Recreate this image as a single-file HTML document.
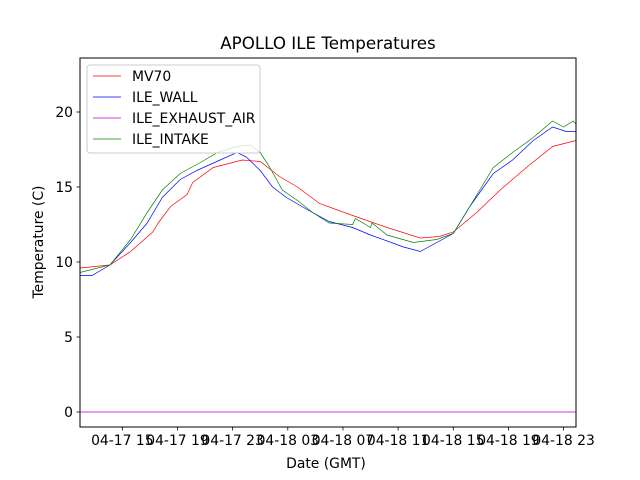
<!DOCTYPE html>
<html><head><meta charset="utf-8"><style>
html,body{margin:0;padding:0;background:#fff;}
svg{display:block;font-family:"DejaVu Sans","Liberation Sans",sans-serif;}
</style></head><body>
<svg id="chart" width="640" height="480" viewBox="0 0 640 480">
<rect x="0" y="0" width="640" height="480" fill="#fff"/>
<text x="328" y="49" font-size="16.7" text-anchor="middle">APOLLO ILE Temperatures</text>
<g id="plot"></g>
<g id="axes"></g>
<text x="326" y="468" font-size="13.9" text-anchor="middle">Date (GMT)</text>
<text transform="translate(43,242) rotate(-90)" font-size="13.9" text-anchor="middle">Temperature (C)</text>
<g id="legend"></g>
</svg>
<script>
// hours since 04-17 00:00
const xTickHours = [15,19,23,27,31,35,39,43,47];
const xTickLabels = ["04-17 15","04-17 19","04-17 23","04-18 03","04-18 07","04-18 11","04-18 15","04-18 19","04-18 23"];
const yTicks = [0,5,10,15,20];
const seriesNames = ["MV70","ILE_WALL","ILE_EXHAUST_AIR","ILE_INTAKE"];
const seriesColors = ["#ff0000","#0000ff","#bf00bf","#008000"];
const mv70Times = [11.93,14.1,15.6,17.2,17.6,18.5,19.7,20.1,21.6,23.7,25.0,26.4,27.7,29.3,31.7,34.2,36.6,38.0,39.0,40.7,42.4,44.3,46.2,47.9];
const mv70Values = [9.6,9.8,10.7,12.0,12.6,13.7,14.5,15.3,16.3,16.8,16.7,15.7,15.0,13.9,13.1,12.3,11.6,11.7,12.0,13.3,14.8,16.3,17.7,18.1];
const wallTimes = [11.93,12.8,14.1,15.6,16.8,17.9,19.2,20.4,22.1,23.3,24.0,25.0,25.9,26.9,28.4,30.0,31.7,33.0,35.4,36.6,37.8,39.0,40.2,41.9,43.3,44.8,46.2,47.2,47.9];
const wallValues = [9.1,9.1,9.8,11.3,12.6,14.3,15.5,16.1,16.8,17.3,17.0,16.1,15.0,14.3,13.5,12.7,12.3,11.8,11.0,10.7,11.3,11.9,13.7,15.9,16.8,18.1,19.0,18.7,18.7];
const exhaustTimes = [11.93,47.9];
const exhaustValues = [0,0];
const intakeTimes = [11.93,14.1,15.6,16.8,17.9,19.2,20.6,21.9,23.3,24.3,25.0,25.7,26.6,27.7,28.8,30.0,31.7,31.9,33.0,33.1,34.2,36.1,37.8,39.0,40.2,41.9,43.3,44.8,46.2,47.0,47.7,47.9];
const intakeValues = [9.3,9.8,11.5,13.3,14.8,15.9,16.6,17.3,17.7,17.8,17.3,16.3,14.8,14.1,13.3,12.6,12.5,12.9,12.3,12.6,11.8,11.3,11.5,11.9,13.7,16.3,17.3,18.3,19.4,19.0,19.4,19.2];

const L=80,R=576,T=58,B=427;
const xMin=11.93,xMax=47.9,yMin=-1,yMax=23.6;
const xs=h=>L+(h-xMin)/(xMax-xMin)*(R-L);
const ys=v=>B-(v-yMin)/(yMax-yMin)*(B-T);
const NS="http://www.w3.org/2000/svg";
function mk(tag,attrs,parent){const e=document.createElementNS(NS,tag);for(const k in attrs)e.setAttribute(k,attrs[k]);parent.appendChild(e);return e;}
const plot=document.getElementById('plot');
const axes=document.getElementById('axes');
const legend=document.getElementById('legend');

const allTimes=[mv70Times,wallTimes,exhaustTimes,intakeTimes];
const allValues=[mv70Values,wallValues,exhaustValues,intakeValues];
[0,1,2,3].forEach(i=>{
  const pts=allTimes[i].map((t,j)=>xs(t).toFixed(1)+","+ys(allValues[i][j]).toFixed(1)).join(" ");
  const pl=mk('polyline',{points:pts,fill:'none',stroke:seriesColors[i],'stroke-width':0.7},plot);
  
  
});

const frame=mk('rect',{x:L,y:T,width:R-L,height:B-T,fill:'none',stroke:'#000','stroke-width':1},axes);


xTickHours.forEach((h,i)=>{
  const x=xs(h);
  const tk=mk('line',{x1:x,x2:x,y1:B,y2:B+3.5,stroke:'#000','stroke-width':0.8},axes);
  
  
  const tx=mk('text',{x:x,y:B+18,'font-size':13.9,'text-anchor':'middle'},axes);
  tx.textContent=xTickLabels[i];
  
  
});
yTicks.forEach(v=>{
  const y=ys(v);
  const tk=mk('line',{x1:L-3.5,x2:L,y1:y,y2:y,stroke:'#000','stroke-width':0.8},axes);
  
  
  const tx=mk('text',{x:L-7,y:y+5,'font-size':13.9,'text-anchor':'end'},axes);
  tx.textContent=String(v);
  
  
});

const box=mk('rect',{x:87,y:65,width:173,height:88,rx:3,fill:'#fff','fill-opacity':0.8,stroke:'#ccc','stroke-width':1},legend);


seriesNames.forEach((n,i)=>{
  const y=76+i*21;
  const ln=mk('line',{x1:93,x2:121,y1:y,y2:y,stroke:seriesColors[i],'stroke-width':0.75},legend);
  
  
  const tx=mk('text',{x:132,y:y+5,'font-size':13.9},legend);
  tx.textContent=n;
  
  
});
</script>
</body></html>
